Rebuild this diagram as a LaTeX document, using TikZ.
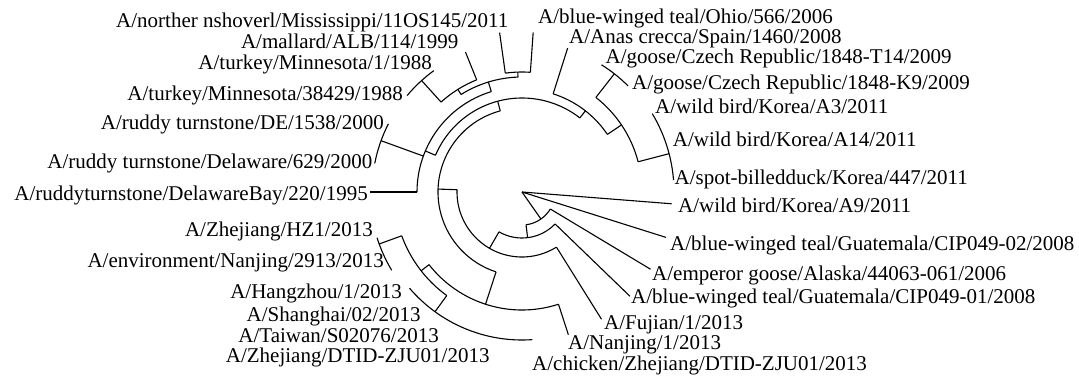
\documentclass[tikz,border=0pt]{standalone}
\usepackage{fontspec}
\setmainfont{Liberation Serif}
\begin{document}
\begin{tikzpicture}[x=1pt,y=1pt,
  branch/.style={draw=black,line width=1.1pt},
  lblL/.style={anchor=base east,inner sep=0pt,font=\fontsize{21}{24}\selectfont},
  lblR/.style={anchor=base west,inner sep=0pt,font=\fontsize{21}{24}\selectfont}]
\useasboundingbox (0,0) rectangle (1079,-375);
\begin{scope}[shift={(522,-192)}]
% ---- root and its children
\coordinate (root) at (0,0);
\coordinate (eA9) at (-4.5:150);
\coordinate (eC2) at (-17.5:151);
\coordinate (n1) at (-55:33);
\draw[branch] (root) -- (eA9);
\draw[branch] (root) -- (eC2);
\draw[branch] (root) -- (n1);
% ---- N1
\coordinate (n1a) at (-83:33);
\coordinate (n1b) at (-31:33);
\coordinate (eEmp) at (-31:150);
\draw[branch] (n1a) arc[start angle=-83,end angle=-31,radius=33];
\draw[branch] (n1b) -- (eEmp);
% ---- N2
\coordinate (n2) at (-83:46);
\coordinate (n2a) at (-120:46);
\coordinate (n2b) at (-44:46);
\coordinate (eC1) at (-44:150);
\draw[branch] (n1a) -- (n2);
\draw[branch] (n2a) arc[start angle=-120,end angle=-44,radius=46];
\draw[branch] (n2b) -- (eC1);
% ---- N3
\coordinate (n3) at (-120:65);
\coordinate (n3a) at (178:65);
\coordinate (n3b) at (-58:65);
\coordinate (eFuj) at (-58:150);
\draw[branch] (n2a) -- (n3);
\draw[branch] (n3a) arc[start angle=178,end angle=302,radius=65];
\draw[branch] (n3b) -- (eFuj);
% ---- N4
\coordinate (n4) at (178:84);
\coordinate (n4a) at (105:84);
\coordinate (n4b) at (252:84);
\draw[branch] (n3a) -- (n4);
\draw[branch] (n4a) arc[start angle=105,end angle=252,radius=84];
% ---- N5 (2013 clade)
\coordinate (n5) at (252:118);
\coordinate (n5a) at (218:118);
\coordinate (n5b) at (288:118);
\coordinate (eNan) at (288:150);
\draw[branch] (n4b) -- (n5);
\draw[branch] (n5a) arc[start angle=218,end angle=288,radius=118];
\draw[branch] (n5b) -- (eNan);
% ---- N6
\coordinate (n6) at (218:128);
\coordinate (n6a) at (200:128);
\coordinate (n6b) at (234:128);
\draw[branch] (n5a) -- (n6);
\draw[branch] (n6a) arc[start angle=200,end angle=234,radius=128];
% HZ pair
\coordinate (nhz) at (200:152);
\coordinate (nhza) at (197.5:152);
\draw[branch] (n6a) -- (nhz);
\draw[branch] (nhza) arc[start angle=197.5,end angle=211,radius=152];
% N7
\coordinate (n7) at (234:148);
\coordinate (n7a) at (220.5:148);
\draw[branch] (n6b) -- (n7);
\draw[branch] (n7a) arc[start angle=220.5,end angle=274,radius=148];
% ---- D
\coordinate (nd) at (105:94);
\coordinate (nda) at (52:94);
\coordinate (ndb) at (157:94);
\draw[branch] (n4a) -- (nd);
\draw[branch] (nda) arc[start angle=52,end angle=157,radius=94];
% ---- C
\coordinate (nc) at (157:105);
\coordinate (nca) at (107:105);
\coordinate (ncr) at (160:105);
\coordinate (ncb) at (180:105);
\coordinate (eDelB) at (180:152);
\draw[branch] (ndb) -- (nc);
\draw[branch] (nca) arc[start angle=107,end angle=180,radius=105];
\draw[branch] (ncb) -- (eDelB);
% ruddy pair
\coordinate (nr) at (160:150);
\coordinate (nra) at (153:150);
\draw[branch] (ncr) -- (nr);
\draw[branch] (nra) arc[start angle=153,end angle=169,radius=150];
% ---- B
\coordinate (nb) at (107:115);
\coordinate (nbt) at (92:115);
\coordinate (nba) at (122:115);
\draw[branch] (nca) -- (nb);
\draw[branch] (nbt) arc[start angle=92,end angle=122,radius=115];
% top pair
\coordinate (nt) at (92:120);
\coordinate (nt1) at (98:120);
\coordinate (nt2) at (86:120);
\coordinate (eShov) at (98:161);
\coordinate (eOhio) at (86:160);
\draw[branch] (nbt) -- (nt);
\draw[branch] (nt2) arc[start angle=86,end angle=98,radius=120];
\draw[branch] (nt1) -- (eShov);
\draw[branch] (nt2) -- (eOhio);
% ---- A
\coordinate (na) at (122:121);
\coordinate (na1) at (112:121);
\coordinate (na2) at (132:121);
\coordinate (eMall) at (112:151);
\draw[branch] (nba) -- (na);
\draw[branch] (na1) arc[start angle=112,end angle=132,radius=121];
\draw[branch] (na1) -- (eMall);
% turkey pair
\coordinate (ntk) at (132:150);
\coordinate (ntka) at (126:150);
\draw[branch] (na2) -- (ntk);
\draw[branch] (ntka) arc[start angle=126,end angle=140,radius=150];
% ---- G3
\coordinate (ng3) at (52:103);
\coordinate (ng3a) at (34:103);
\coordinate (ng3b) at (72.4:103);
\coordinate (eAnas) at (72.4:151);
\draw[branch] (nda) -- (ng3);
\draw[branch] (ng3a) arc[start angle=34,end angle=72.4,radius=103];
\draw[branch] (ng3b) -- (eAnas);
% ---- G2
\coordinate (ng2) at (34:120);
\coordinate (ng2a) at (14.6:120);
\coordinate (ng2b) at (52:120);
\draw[branch] (ng3a) -- (ng2);
\draw[branch] (ng2a) arc[start angle=14.6,end angle=52,radius=120];
% goose pair
\coordinate (ngp) at (52:150);
\coordinate (ngpa) at (45:150);
\draw[branch] (ng2b) -- (ngp);
\draw[branch] (ngpa) arc[start angle=45,end angle=58,radius=150];
% Korea trio
\coordinate (nk) at (14.6:152);
\coordinate (nka) at (4.5:152);
\draw[branch] (ng2a) -- (nk);
\draw[branch] (nka) arc[start angle=4.5,end angle=31,radius=152];
\end{scope}
% ---- labels, left side
\node[lblL] (Lshov) at (508.6,-27) {A/norther nshoverl/Mississippi/11OS145/2011};
\node[lblL] (Lmall) at (458.6,-48) {A/mallard/ALB/114/1999};
\node[lblL] (Ltur1) at (432,-69.5) {A/turkey/Minnesota/1/1988};
\node[lblL] (Ltur2) at (403,-100.5) {A/turkey/Minnesota/38429/1988};
\node[lblL] (LDE) at (384,-129.5) {A/ruddy turnstone/DE/1538/2000};
\node[lblL] (LDel) at (372.5,-168) {A/ruddy turnstone/Delaware/629/2000};
\node[lblL] (LDelB) at (368,-200) {A/ruddyturnstone/DelawareBay/220/1995};
\node[lblL] (LHZ) at (373,-236) {A/Zhejiang/HZ1/2013};
\node[lblL] (Lenv) at (384,-267) {A/environment/Nanjing/2913/2013};
\node[lblL] (LHang) at (402,-298) {A/Hangzhou/1/2013};
\node[lblL] (LShan) at (420.7,-321) {A/Shanghai/02/2013};
\node[lblL] (LTaiw) at (439,-342) {A/Taiwan/S02076/2013};
\node[lblL] (LZheD) at (489.7,-362) {A/Zhejiang/DTID-ZJU01/2013};
% ---- labels, right side
\node[lblR] (LOhio) at (538,-23) {A/blue-winged teal/Ohio/566/2006};
\node[lblR] (LAnas) at (569,-43) {A/Anas crecca/Spain/1460/2008};
\node[lblR] (LT14) at (605.5,-63) {A/goose/Czech Republic/1848-T14/2009};
\node[lblR] (LK9) at (632,-89) {A/goose/Czech Republic/1848-K9/2009};
\node[lblR] (LA3) at (655,-113) {A/wild bird/Korea/A3/2011};
\node[lblR] (LA14) at (672.7,-146) {A/wild bird/Korea/A14/2011};
\node[lblR] (Lspot) at (674.5,-184) {A/spot-billedduck/Korea/447/2011};
\node[lblR] (LA9) at (677.9,-212) {A/wild bird/Korea/A9/2011};
\node[lblR] (LC2) at (670,-250) {A/blue-winged teal/Guatemala/CIP049-02/2008};
\node[lblR] (Lemp) at (652,-280) {A/emperor goose/Alaska/44063-061/2006};
\node[lblR] (LC1) at (631,-303) {A/blue-winged teal/Guatemala/CIP049-01/2008};
\node[lblR] (LFuj) at (604,-329) {A/Fujian/1/2013};
\node[lblR] (LNanj) at (568,-349) {A/Nanjing/1/2013};
\node[lblR] (Lchick) at (532,-370) {A/chicken/Zhejiang/DTID-ZJU01/2013};
\end{tikzpicture}
\end{document}
